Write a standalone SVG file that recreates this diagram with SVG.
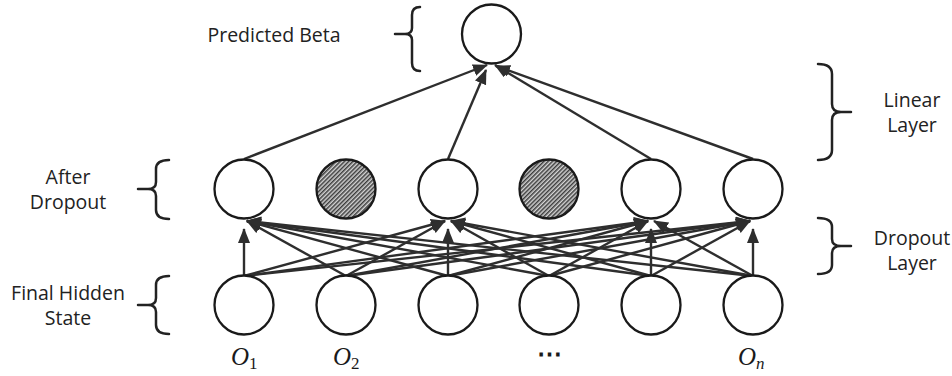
<svg xmlns="http://www.w3.org/2000/svg" width="952" height="376" viewBox="0 0 952 376">
<style>
.node{fill:#fff;stroke:#1a1a1a;stroke-width:2.3}
.drop{fill:url(#hatch);stroke:#1a1a1a;stroke-width:2.3}
.edge{stroke:#2e2e2e;stroke-width:2.4;fill:none;marker-end:url(#arr)}
.brace{stroke:#222;stroke-width:2.5;fill:none;stroke-linecap:round;stroke-linejoin:round}
.lbl{font-family:"Open Sans","Noto Sans",sans-serif;font-size:19.5px;fill:#222;text-anchor:middle}
.math{font-family:"Liberation Serif","DejaVu Serif",serif;font-size:25px;fill:#1a1a1a}
</style>
<defs>
<marker id="arr" markerUnits="userSpaceOnUse" markerWidth="16" markerHeight="13" refX="14" refY="6" orient="auto">
<path d="M0,0 L15,6 L0,12 Z" fill="#2e2e2e"/>
</marker>
<pattern id="hatch" patternUnits="userSpaceOnUse" width="3" height="3" patternTransform="rotate(45)">
<rect width="3" height="3" fill="#d4d4d4"/>
<rect width="1.5" height="3" fill="#3c3c3c"/>
</pattern>
</defs>
<rect width="952" height="376" fill="#fff"/>

<g id="connectors">
<line class="edge" x1="244" y1="276" x2="244" y2="229"/>
<line class="edge" x1="346" y1="276" x2="247" y2="221"/>
<line class="edge" x1="448" y1="276" x2="247" y2="221"/>
<line class="edge" x1="549" y1="276" x2="247" y2="221"/>
<line class="edge" x1="651" y1="276" x2="247" y2="221"/>
<line class="edge" x1="753" y1="276" x2="247" y2="221"/>
<line class="edge" x1="244" y1="276" x2="445" y2="221"/>
<line class="edge" x1="346" y1="276" x2="445" y2="221"/>
<line class="edge" x1="448" y1="276" x2="448" y2="229"/>
<line class="edge" x1="549" y1="276" x2="451" y2="221"/>
<line class="edge" x1="651" y1="276" x2="451" y2="221"/>
<line class="edge" x1="753" y1="276" x2="451" y2="221"/>
<line class="edge" x1="244" y1="276" x2="648" y2="221"/>
<line class="edge" x1="346" y1="276" x2="648" y2="221"/>
<line class="edge" x1="448" y1="276" x2="648" y2="221"/>
<line class="edge" x1="549" y1="276" x2="648" y2="221"/>
<line class="edge" x1="651" y1="276" x2="651" y2="229"/>
<line class="edge" x1="753" y1="276" x2="654" y2="221"/>
<line class="edge" x1="244" y1="276" x2="750" y2="221"/>
<line class="edge" x1="346" y1="276" x2="750" y2="221"/>
<line class="edge" x1="448" y1="276" x2="750" y2="221"/>
<line class="edge" x1="549" y1="276" x2="750" y2="221"/>
<line class="edge" x1="651" y1="276" x2="750" y2="221"/>
<line class="edge" x1="753" y1="276" x2="753" y2="229"/>
<line class="edge" x1="244" y1="159" x2="487" y2="65"/>
<line class="edge" x1="448" y1="159" x2="486" y2="70"/>
<line class="edge" x1="651" y1="159" x2="495" y2="65"/>
<line class="edge" x1="753" y1="159" x2="496" y2="66"/>
</g>

<g id="output"><circle class="node" cx="491.5" cy="34" r="29.5"/></g>

<g id="d1"><circle class="node" cx="244" cy="189" r="29.5"/></g>
<g id="d2"><circle class="drop" cx="346" cy="189" r="29.5"/></g>
<g id="d3"><circle class="node" cx="448" cy="189" r="29.5"/></g>
<g id="d4"><circle class="drop" cx="549" cy="189" r="29.5"/></g>
<g id="d5"><circle class="node" cx="651" cy="189" r="29.5"/></g>
<g id="d6"><circle class="node" cx="753" cy="189" r="29.5"/></g>

<g id="h1"><circle class="node" cx="244" cy="305" r="29.5"/></g>
<g id="h2"><circle class="node" cx="346" cy="305" r="29.5"/></g>
<g id="h3"><circle class="node" cx="448" cy="305" r="29.5"/></g>
<g id="h4"><circle class="node" cx="549" cy="305" r="29.5"/></g>
<g id="h5"><circle class="node" cx="651" cy="305" r="29.5"/></g>
<g id="h6"><circle class="node" cx="753" cy="305" r="29.5"/></g>

<g id="braces">
<path class="brace" d="M420,7 Q412,7 412,15 L412,28 Q412,34 405,34 L395,34 M405,34 Q412,34 412,40 L412,63 Q412,71 420,71"/>
<path class="brace" d="M169,160 Q156,160 156,169 L156,182 Q156,189 148,189 L138,189 M148,189 Q156,189 156,196 L156,210 Q156,219 169,219"/>
<path class="brace" d="M169,276 Q156,276 156,285 L156,298 Q156,305 148,305 L138,305 M148,305 Q156,305 156,312 L156,325 Q156,334 169,334"/>
<path class="brace" d="M818,64 Q832,64 832,74 L832,104 Q832,112 841,112 L851,112 M841,112 Q832,112 832,120 L832,150 Q832,160 818,160"/>
<path class="brace" d="M818,218 Q832,218 832,227 L832,239 Q832,246 841,246 L851,246 M841,246 Q832,246 832,253 L832,265 Q832,274 818,274"/>
</g>

<g id="labels">
<text class="lbl" x="274" y="42">Predicted Beta</text>
<text class="lbl" x="68" y="184">After</text>
<text class="lbl" x="68" y="209">Dropout</text>
<text class="lbl" x="68" y="300">Final Hidden</text>
<text class="lbl" x="68" y="325">State</text>
<text class="lbl" x="912" y="107">Linear</text>
<text class="lbl" x="912" y="132">Layer</text>
<text class="lbl" x="912" y="245">Dropout</text>
<text class="lbl" x="912" y="270">Layer</text>
<text class="math" x="231" y="365"><tspan font-style="italic">O</tspan><tspan font-size="17" dy="4">1</tspan></text>
<text class="math" x="333" y="365"><tspan font-style="italic">O</tspan><tspan font-size="17" dy="4">2</tspan></text>
<text class="math" x="549" y="362" text-anchor="middle" font-weight="bold">⋯</text>
<text class="math" x="738" y="365"><tspan font-style="italic">O</tspan><tspan font-size="17" font-style="italic" dy="4">n</tspan></text>
</g>
</svg>
